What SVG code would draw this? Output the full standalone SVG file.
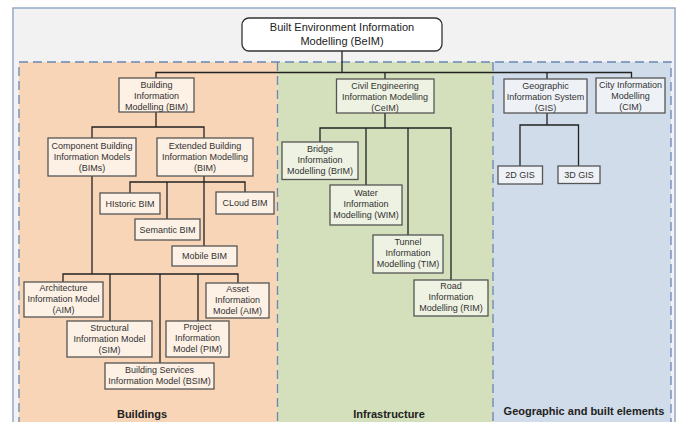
<svg xmlns="http://www.w3.org/2000/svg" width="681" height="422" viewBox="0 0 681 422">
<defs>
<style>
text{font-family:"Liberation Sans",Arial,sans-serif;font-size:9px;fill:#333;text-anchor:middle}
.t{font-size:11px;fill:#222}
.h{font-size:11px;font-weight:bold;fill:#222}
.bo{fill:#fdf0e5;stroke:#555;stroke-width:1.3}
.bg{fill:#eef2e2;stroke:#555;stroke-width:1.3}
.bb{fill:#eef2f7;stroke:#555;stroke-width:1.3}
.dash{fill:none;stroke:#6a86b2;stroke-width:1.3;stroke-dasharray:9 5}
#connectors path{fill:none;stroke:#222;stroke-width:1.3}
</style>
</defs>
<rect x="0" y="0" width="681" height="422" fill="#ffffff"/>
<rect x="13" y="8" width="662" height="420" fill="#f2f2f2" stroke="#93a9c8" stroke-width="1.5"/>
<g id="panels">
<rect x="19" y="62" width="258.5" height="362" fill="#f9d5b8"/>
<rect x="277.5" y="62" width="215.5" height="362" fill="#d4e0bc"/>
<rect x="493" y="62" width="178" height="362" fill="#d0dce9"/>
<path class="dash" d="M19 426 V62 H671 V426"/>
<path class="dash" d="M277.5 62 V426"/>
<path class="dash" d="M493 62 V426"/>
<text class="h" x="142" y="418">Buildings</text>
<text class="h" x="389" y="418">Infrastructure</text>
<text class="h" x="584" y="415">Geographic and built elements</text>
</g>
<g id="connectors">
<path d="M342 51 V72.5 M156 78 V72.5 H631.5 V78 M385 72.5 V79 M547 72.5 V79"/>
<path d="M156 112 V127 M92 138 V127 H204 V138"/>
<path d="M204 176 V246 M130 193 V182 H245 V192 M167 182 V219"/>
<path d="M92 176 V274 M63 282 V274 H238 V283 M110 274 V321 M160 274 V363 M198 274 V321"/>
<path d="M385 113 V128 M320 142 V128 H451 V280 M366 128 V185 M408 128 V235"/>
<path d="M547 113 V125 M520 166 V125 H578.5 V166"/>
</g>
<g id="beim">
<rect x="242" y="18" width="200" height="33" rx="7" fill="#fff" stroke="#333" stroke-width="1.3"/>
<text class="t" x="342" y="31">Built Environment Information</text>
<text class="t" x="342" y="45">Modelling (BeIM)</text>
</g>
<g id="bim">
<rect class="bo" x="119" y="78" width="75" height="34"/>
<text x="156.5" y="88">Building</text>
<text x="156.5" y="99">Information</text>
<text x="156.5" y="110">Modelling (BIM)</text>
</g>
<g id="cbim">
<rect class="bo" x="48" y="138" width="88" height="38"/>
<text x="92" y="149">Component Building</text>
<text x="92" y="160">Information Models</text>
<text x="92" y="171">(BIMs)</text>
</g>
<g id="ebim">
<rect class="bo" x="157" y="138" width="96" height="38"/>
<text x="205" y="149">Extended Building</text>
<text x="205" y="160">Information Modelling</text>
<text x="205" y="171">(BIM)</text>
</g>
<g id="historic">
<rect class="bo" x="100" y="193" width="60" height="21"/>
<text x="130" y="206.5">HIstoric BIM</text>
</g>
<g id="cloud">
<rect class="bo" x="216" y="192" width="58" height="22"/>
<text x="245" y="206">CLoud BIM</text>
</g>
<g id="semantic">
<rect class="bo" x="135" y="219" width="65" height="21"/>
<text x="167.5" y="232.5">Semantic BIM</text>
</g>
<g id="mobile">
<rect class="bo" x="172" y="246" width="65" height="20"/>
<text x="204.5" y="259">Mobile BIM</text>
</g>
<g id="arch">
<rect class="bo" x="24" y="282" width="79" height="35"/>
<text x="63.5" y="290.5">Architecture</text>
<text x="63.5" y="301.5">Information Model</text>
<text x="63.5" y="312.5">(AIM)</text>
</g>
<g id="structural">
<rect class="bo" x="67" y="321" width="85" height="36"/>
<text x="109.5" y="330.5">Structural</text>
<text x="109.5" y="341.5">Information Model</text>
<text x="109.5" y="352.5">(SIM)</text>
</g>
<g id="project">
<rect class="bo" x="166" y="321" width="63" height="36"/>
<text x="197.5" y="330">Project</text>
<text x="197.5" y="341">Information</text>
<text x="197.5" y="352">Model (PIM)</text>
</g>
<g id="asset">
<rect class="bo" x="206" y="283" width="63" height="35"/>
<text x="237.5" y="291.5">Asset</text>
<text x="237.5" y="302.5">Information</text>
<text x="237.5" y="313.5">Model (AIM)</text>
</g>
<g id="bsim">
<rect class="bo" x="105" y="363" width="109" height="26"/>
<text x="159.5" y="373">Building Services</text>
<text x="159.5" y="384">Information Model (BSIM)</text>
</g>
<g id="ceim">
<rect class="bg" x="336.5" y="79" width="97.5" height="34"/>
<text x="385" y="88.5">Civil Engineering</text>
<text x="385" y="99.5">Information Modelling</text>
<text x="385" y="110.5">(CeIM)</text>
</g>
<g id="brim">
<rect class="bg" x="282" y="142" width="76" height="37.5"/>
<text x="320" y="152">Bridge</text>
<text x="320" y="163">Information</text>
<text x="320" y="174">Modelling (BrIM)</text>
</g>
<g id="wim">
<rect class="bg" x="330" y="185" width="72" height="40"/>
<text x="366" y="196">Water</text>
<text x="366" y="207">Information</text>
<text x="366" y="218">Modelling (WIM)</text>
</g>
<g id="tim">
<rect class="bg" x="373" y="235" width="70" height="38"/>
<text x="408" y="245">Tunnel</text>
<text x="408" y="256">Information</text>
<text x="408" y="267">Modelling (TIM)</text>
</g>
<g id="rim">
<rect class="bg" x="414" y="280" width="74" height="36"/>
<text x="451" y="289">Road</text>
<text x="451" y="300">Information</text>
<text x="451" y="311">Modelling (RIM)</text>
</g>
<g id="gis">
<rect class="bb" x="504" y="79" width="83" height="34"/>
<text x="545.5" y="88.5">Geographic</text>
<text x="545.5" y="99.5">Information System</text>
<text x="545.5" y="110.5">(GIS)</text>
</g>
<g id="cim">
<rect class="bb" x="596" y="78" width="69" height="35"/>
<text x="630.5" y="87.5">City Information</text>
<text x="630.5" y="98.5">Modelling</text>
<text x="630.5" y="109.5">(CIM)</text>
</g>
<g id="gis2d">
<rect class="bb" x="498" y="166" width="44.5" height="18"/>
<text x="520" y="178">2D GIS</text>
</g>
<g id="gis3d">
<rect class="bb" x="558" y="166" width="42" height="17.5"/>
<text x="579" y="178">3D GIS</text>
</g>
</svg>
